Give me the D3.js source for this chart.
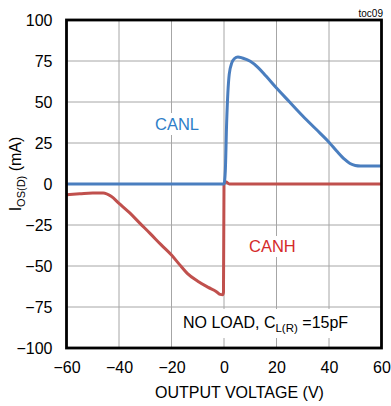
<!DOCTYPE html>
<html><head><meta charset="utf-8">
<script src="https://cdn.jsdelivr.net/npm/d3@7"></script>
<style>body{margin:0;background:#fff}svg{display:block;font-family:"Liberation Sans",Arial,sans-serif}</style>
</head><body><svg id="c" width="391" height="406"></svg>
<script>
const xTicks = [-60, -40, -20, 0, 20, 40, 60];
const yTicks = [100, 75, 50, 25, 0, -25, -50, -75, -100];
const canlX = [-60, 0, 0.5, 1, 2, 3, 4, 5.3, 7, 10, 13, 16, 20, 25, 30, 35, 40, 43, 46, 48, 50, 52, 55, 60];
const canlY = [0, 0, 8, 37, 67, 74, 76.5, 77.5, 76.8, 74.8, 71, 65.8, 58.5, 50, 41.5, 33.5, 25.5, 20, 15, 12.5, 11.3, 11, 11, 11];
const canhX = [-60, -55, -50, -46, -43, -40, -36, -32, -28, -24, -20, -17, -14, -10, -6, -3, -1.5, -0.5, -0.2, 0, 0.8, 2, 60];
const canhY = [-6.5, -6, -5.5, -5.5, -7.5, -11.8, -17.5, -24, -30.4, -37, -43.3, -49, -54.5, -59.3, -63, -65.5, -67.3, -67.5, -66, 0, 1.2, 0, 0];

const svg = d3.select("#c");
const L = 66.5, R = 381.5, T = 20, B = 348;
const x = d3.scaleLinear().domain([-60, 60]).range([L, R]);
const y = d3.scaleLinear().domain([-100, 100]).range([B, T]);
const font = '"Liberation Sans",Arial,sans-serif';

// grid
svg.append("g").selectAll("line.v").data(xTicks).join("line")
  .attr("x1", d => x(d)).attr("x2", d => x(d)).attr("y1", T).attr("y2", B)
  .attr("stroke", "#a6a6a6").attr("stroke-width", 1);
svg.append("g").selectAll("line.h").data(yTicks).join("line")
  .attr("x1", L).attr("x2", R).attr("y1", d => y(d)).attr("y2", d => y(d))
  .attr("stroke", "#a6a6a6").attr("stroke-width", 1);

// white boxes behind labels
svg.append("rect").attr("x", 150).attr("y", 113).attr("width", 55).attr("height", 22).attr("fill", "#fff");
svg.append("rect").attr("x", 245).attr("y", 236).attr("width", 56).attr("height", 21).attr("fill", "#fff");
svg.append("rect").attr("x", 178).attr("y", 309).attr("width", 186).attr("height", 29).attr("fill", "#fff");

// lines
const line = d3.line().x(d => x(d[0])).y(d => y(d[1])).curve(d3.curveMonotoneX);
svg.append("path").datum(canhX.map((v, i) => [v, canhY[i]]))
  .attr("d", line).attr("fill", "none").attr("stroke", "#c0504d").attr("stroke-width", 3).attr("stroke-linejoin", "round");
svg.append("path").datum(canlX.map((v, i) => [v, canlY[i]]))
  .attr("d", line).attr("fill", "none").attr("stroke", "#4a7ebf").attr("stroke-width", 3).attr("stroke-linejoin", "round");

// frame
svg.append("rect").attr("x", L).attr("y", T).attr("width", R - L).attr("height", B - T)
  .attr("fill", "none").attr("stroke", "#000").attr("stroke-width", 2.8);

// axes (labels only)
const xa = d3.axisBottom(x).tickValues(xTicks).tickSize(0).tickPadding(14);
const gx = svg.append("g").attr("transform", `translate(0,${B})`).call(xa);
gx.select(".domain").remove();
gx.selectAll("text").attr("font-size", 16).attr("font-family", font).attr("fill", "#000");

const ya = d3.axisLeft(y).tickValues(yTicks).tickSize(0).tickPadding(14);
const gy = svg.append("g").attr("transform", `translate(${L},0)`).call(ya);
gy.select(".domain").remove();
gy.selectAll("text").attr("font-size", 16).attr("font-family", font).attr("fill", "#000");

// titles
svg.append("text").attr("x", 155).attr("y", 398).attr("font-size", 16).attr("font-family", font)
  .text("OUTPUT VOLTAGE (V)");
const yt = svg.append("text").attr("transform", "translate(21,174) rotate(-90)")
  .attr("text-anchor", "middle").attr("font-size", 16).attr("font-family", font);
yt.append("tspan").text("I");
yt.append("tspan").attr("font-size", 11).attr("dy", 4).text("OS(D)");
yt.append("tspan").attr("dy", -4).text(" (mA)");

svg.append("text").attr("x", 383).attr("y", 17).attr("text-anchor", "end").attr("font-size", 10)
  .attr("font-family", font).text("toc09");

svg.append("text").attr("x", 155).attr("y", 130).attr("font-size", 16.5).attr("font-family", font)
  .attr("fill", "#2e7ec8").text("CANL");
svg.append("text").attr("x", 249).attr("y", 252).attr("font-size", 16.5).attr("font-family", font)
  .attr("fill", "#d42a2a").text("CANH");
const nl = svg.append("text").attr("x", 183).attr("y", 328).attr("font-size", 16).attr("font-family", font);
nl.append("tspan").text("NO LOAD, C");
nl.append("tspan").attr("font-size", 11.5).attr("dy", 4).text("L(R)");
nl.append("tspan").attr("dy", -4).text(" =15pF");
</script></body></html>
